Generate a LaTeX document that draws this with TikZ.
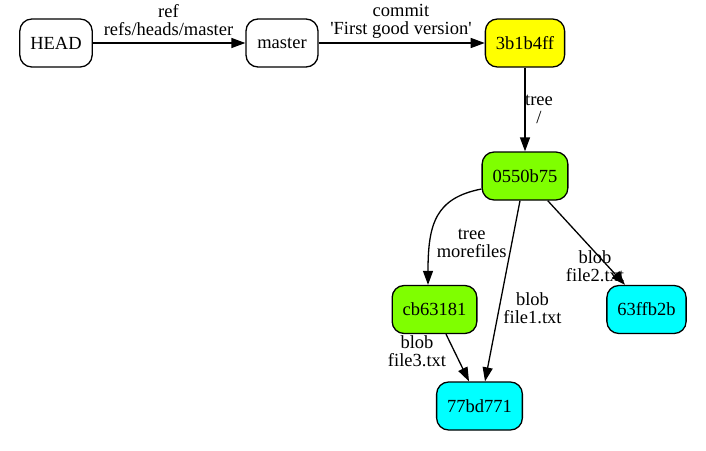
\documentclass[tikz,border=0pt]{standalone}
\usepackage{fontspec}
\setmainfont{Liberation Serif}
\usepackage{tikz}
\usetikzlibrary{arrows.meta}
\tikzset{>={Triangle[length=14pt, width=10pt]}}
\definecolor{chartreuse}{RGB}{127,255,0}
\definecolor{gvcyan}{RGB}{0,255,255}
\definecolor{gvyellow}{RGB}{255,255,0}
\newcommand{\gvfont}{\fontsize{18.5}{18}\selectfont}
\tikzset{
    obj/.style={draw, line width=1.3pt, rounded corners=12pt, minimum width=72pt, minimum height=48pt, inner xsep=10.5pt, font=\gvfont},
    lbl/.style={align=center, inner sep=0pt, font=\gvfont},
    edge/.style={->, line width=1.3pt},
}

\begin{document}
\begin{tikzpicture}[x=1pt, y=-1pt]
    \useasboundingbox(0, 0) rectangle (706, 450);
    % refs and commit
    \node[obj] (head) at (56, 43) {HEAD};
    \node[obj] (master) at (282, 43) {master};
    \node[obj, fill=gvyellow] (commit) at (525, 43) {3b1b4ff};
    % trees
    \node[obj, fill=chartreuse] (root) at (525, 176) {0550b75};
    \node[obj, fill=chartreuse] (sub) at (434.5, 309.5) {cb63181};
    % blobs
    \node[obj, fill=gvcyan] (blobA) at (479.5, 406) {77bd771};
    \node[obj, fill=gvcyan] (blobB) at (646.5, 309.5) {63ffb2b};

    \draw[edge](head)--(master) node[lbl] at (168.5, 19.9) {ref\\refs/heads/master};
    \draw[edge](master)--(commit) node[lbl] at (401, 21.7) {commit\\\textquotesingle First good version\textquotesingle};
    \draw[edge](commit)--(root) node[lbl] at (539, 109.8) {tree\\/};
    \draw[edge]([yshift=-13pt]root.west) .. controls +(-46, 9) and +(0, -61) .. ([xshift=-6.5pt]sub.north)
        node[lbl] at (471.7, 243.6) {tree\\morefiles};
    \draw[edge]([xshift=-5pt]root.south)--([xshift=5.5pt]blobA.north) node[lbl] at (532.5, 308.7) {blob\\file1.txt};
    \draw[edge]([xshift=22.7pt]root.south)--([xshift=-21.5pt]blobB.north) node[lbl] at (595, 266) {blob\\file2.txt};
    \draw[edge]([xshift=11.5pt]sub.south)--([xshift=-10.5pt]blobA.north) node[lbl] at (417, 351.7) {blob\\file3.txt};
\end{tikzpicture}
\end{document}
